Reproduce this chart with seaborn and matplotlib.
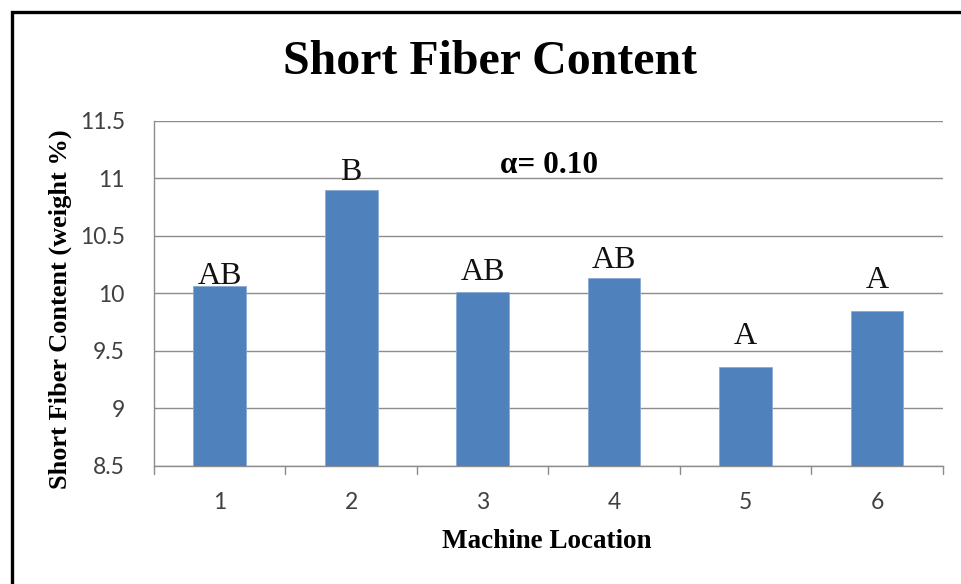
import matplotlib
matplotlib.use('Agg')
import matplotlib.pyplot as plt
import seaborn as sns
import pandas as pd
from matplotlib.patches import Rectangle

# values
locations = ['1', '2', '3', '4', '5', '6']
short_fiber = [10.06, 10.90, 10.01, 10.13, 9.36, 9.85]
groups = ['AB', 'B', 'AB', 'AB', 'A', 'A']
y_ticks = [8.5, 9, 9.5, 10, 10.5, 11, 11.5]
y_tick_labels = ['8.5', '9', '9.5', '10', '10.5', '11', '11.5']

# how far above each bar its letter sits (pixels)
letter_gap = [2, 10, 12, 10, 23, 23]

df = pd.DataFrame({'Machine Location': locations, 'Short Fiber': short_fiber})

sns.set_style('white')
serif = ['Liberation Serif', 'DejaVu Serif']
sans = ['Lato', 'DejaVu Sans']

fig = plt.figure(figsize=(9.61, 5.84), dpi=100)
ax = fig.add_axes([0.1603, 0.2024, 0.8207, 0.5908])

grid_col = '#8c8c8c'
sns.barplot(data=df, x='Machine Location', y='Short Fiber', color='#4F81BD', saturation=1,
            width=0.4, ax=ax, edgecolor='#8aaad4', linewidth=0.6, zorder=3)

ax.set_ylim(8.5, 11.5)
ax.set_xlim(-0.5, 5.5)
ax.set_yticks(y_ticks)
ax.set_yticklabels(y_tick_labels, family=sans, fontsize=16.5, color='#404040')
ax.set_xticks(range(len(locations)))
ax.set_xticklabels(locations, family=sans, fontsize=16.5, color='#404040')
ax.tick_params(axis='x', length=0, pad=19)
ax.tick_params(axis='y', length=9, width=1, color=grid_col, pad=12)

# x tick marks sit between categories
for b in [i + 0.5 for i in range(-1, len(locations))]:
    ax.plot([b, b], [0, -0.025], transform=ax.get_xaxis_transform(), color=grid_col,
            lw=1, clip_on=False)

ax.yaxis.grid(True, color=grid_col, lw=1)
ax.set_axisbelow(True)
for s in ['top', 'right']:
    ax.spines[s].set_visible(False)
for s in ['left', 'bottom']:
    ax.spines[s].set_color(grid_col)
    ax.spines[s].set_linewidth(1)
ax.set_xlabel('')
ax.set_ylabel('')

# significance letters
for i, (v, g) in enumerate(zip(short_fiber, groups)):
    ax.annotate(g, (i, v), xytext=(0, letter_gap[i] * 0.72), textcoords='offset points',
                ha='center', va='baseline', family=serif, fontsize=23, color='#111111')

ax.text(0.4385, 0.849, '\u03b1= 0.10', transform=ax.transAxes, family=serif,
        fontsize=22.5, fontweight='bold', ha='left', va='baseline', color='black')

fig.text(490 / 961, 1 - 74 / 584, 'Short Fiber Content', family=serif, fontsize=34.5,
         fontweight='bold', ha='center', va='baseline', color='black')
fig.text(547 / 961, 1 - 548 / 584, 'Machine Location', family=serif, fontsize=19.5,
         fontweight='bold', ha='center', va='baseline', color='black')
fig.text(60 / 961, 1 - 309 / 584, 'Short Fiber Content (weight %)', family=serif,
         fontsize=19, fontweight='bold', ha='center', va='center', rotation=90,
         color='black')

# frame around the chart, cut off at right and bottom
fig.patches.append(Rectangle((11.5 / 961, -0.1), 1.2, 1 - 11.5 / 584 + 0.1,
                             transform=fig.transFigure, fill=False, ec='black', lw=2.4))

fig.savefig('out.png', dpi=100)
